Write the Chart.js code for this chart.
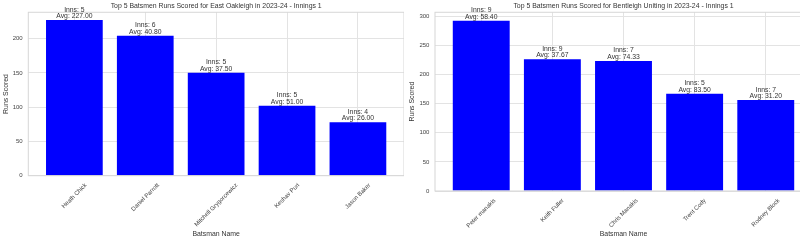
<!DOCTYPE html>
<html>
<head>
<meta charset="utf-8">
<script src="https://cdn.jsdelivr.net/npm/chart.js@4.4.0/dist/chart.umd.min.js"></script>
<style>
  html, body { margin: 0; padding: 0; background: #fff; overflow: hidden; }
  #wrap { position: relative; width: 800px; height: 243px; overflow: hidden; }
  .box { position: absolute; top: 0; height: 243px; }
</style>
</head>
<body>
<div id="wrap">
  <div class="box" style="left:0;width:404px"><canvas id="c1"></canvas></div>
  <div class="box" style="left:403px;width:409px"><canvas id="c2"></canvas></div>
</div>
<script>
// East Oakleigh
const eoNames = ['Heath Chick', 'Daniel Parrott', 'Mitchell Grygorcewicz', 'Keshav Puri', 'Jason Baker'];
const eoRuns = [227, 204, 150, 102, 78];
const eoInns = [5, 6, 5, 5, 4];
const eoAvg = [227.00, 40.80, 37.50, 51.00, 26.00];

// Bentleigh Uniting
const buNames = ['Peter manakis', 'Keith Fuller', 'Chris Manakis', 'Trent Cody', 'Rodney Block'];
const buRuns = [292, 226, 223, 167, 156];
const buInns = [9, 9, 7, 5, 7];
const buAvg = [58.40, 37.67, 74.33, 83.50, 31.20];

const yStep = 50;

const FONT = "'Liberation Sans', Arial, sans-serif";
const GRID = '#e3e3e3';
const TEXT = '#333';

// spines, bar annotations and centred 45deg tick labels (matplotlib style)
const extras = {
  id: 'extras',
  afterDatasetsDraw(chart, args, opts) {
    const ctx = chart.ctx, a = chart.chartArea;
    ctx.save();
    ctx.strokeStyle = '#d6d6d6';
    ctx.lineWidth = 1;
    ctx.strokeRect(a.left, a.top, a.right - a.left, a.bottom - a.top);

    ctx.fillStyle = TEXT;
    ctx.textAlign = 'center';
    ctx.textBaseline = 'middle';
    ctx.font = '6.8px ' + FONT;
    chart.getDatasetMeta(0).data.forEach((bar, i) => {
      ctx.fillText('Inns: ' + opts.inns[i], bar.x, bar.y - 10.4);
      ctx.fillText('Avg: ' + opts.avg[i].toFixed(2), bar.x, bar.y - 3.7);
    });

    const xs = chart.scales.x;
    ctx.font = '6px ' + FONT;
    ctx.fillStyle = '#444';
    opts.names.forEach((name, i) => {
      const w = ctx.measureText(name).width;
      const half = (w + 6) * Math.SQRT1_2 / 2;
      ctx.save();
      ctx.translate(xs.getPixelForValue(i), a.bottom + 6.5 + half);
      ctx.rotate(-Math.PI / 4);
      ctx.fillText(name, 0, 0);
      ctx.restore();
    });
    ctx.restore();
  }
};

function makeChart(id, title, names, runs, inns, avg, yMax, axisW, axisH, yTitlePad) {
  return new Chart(document.getElementById(id), {
    type: 'bar',
    data: {
      datasets: [{
        data: runs.map((v, i) => ({ x: i, y: v })),
        backgroundColor: '#0000ff',
        borderWidth: 0,
        categoryPercentage: 1,
        barPercentage: 0.8
      }]
    },
    options: {
      responsive: true,
      maintainAspectRatio: false,
      animation: false,
      layout: { padding: 0 },
      plugins: {
        legend: { display: false },
        tooltip: { enabled: false },
        title: {
          display: true, text: title, fullSize: false, color: TEXT,
          font: { family: FONT, size: 6.9, weight: 'normal', lineHeight: 1.2 },
          padding: { top: 1.9, bottom: 2.1 }
        },
        extras: { names: names, inns: inns, avg: avg }
      },
      scales: {
        x: {
          type: 'linear', min: -0.65, max: 4.65, offset: false,
          afterFit(s) { s.height = axisH; },
          ticks: { display: false, stepSize: 1, includeBounds: false },
          grid: { color: GRID, drawTicks: false, offset: false },
          border: { display: false },
          title: {
            display: true, text: 'Batsman Name', color: TEXT,
            font: { family: FONT, size: 6.9, lineHeight: 1.2 },
            padding: { top: 0, bottom: 4.9 }
          }
        },
        y: {
          min: 0, max: yMax,
          afterFit(s) { s.width = axisW; },
          ticks: { stepSize: yStep, includeBounds: false, padding: 5.6, color: '#444', font: { family: FONT, size: 6 } },
          grid: { color: GRID, drawTicks: false },
          border: { display: false },
          title: {
            display: true, text: 'Runs Scored', color: TEXT,
            font: { family: FONT, size: 6.9, lineHeight: 1.2 },
            padding: { top: yTitlePad, bottom: 0 }
          }
        }
      }
    },
    plugins: [extras]
  });
}

makeChart('c1', 'Top 5 Batsmen Runs Scored for East Oakleigh in 2023-24 - Innings 1',
  eoNames, eoRuns, eoInns, eoAvg, 238.35, 28.3, 67.3, 1.9);
makeChart('c2', 'Top 5 Batsmen Runs Scored for Bentleigh Uniting in 2023-24 - Innings 1',
  buNames, buRuns, buInns, buAvg, 306.6, 32, 52, 4.6);
</script>
</body>
</html>
